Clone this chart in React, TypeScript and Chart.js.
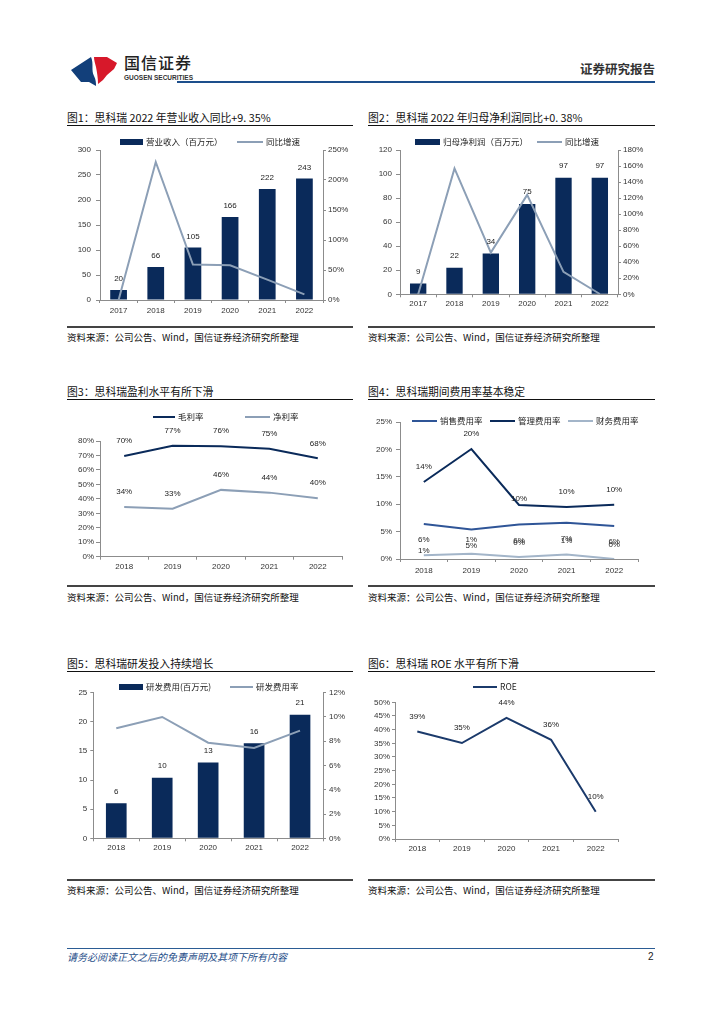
import React, { useEffect, useRef } from 'react';
import { Chart, registerables } from 'chart.js';

Chart.register(...registerables);

// ---------------- data ----------------
const years6 = ['2017', '2018', '2019', '2020', '2021', '2022'];
const years5 = ['2018', '2019', '2020', '2021', '2022'];

const revenue = [20, 66, 105, 166, 222, 243];
const revenueGrowth = [0, 230, 59, 58, 34, 9.35];
const netProfit = [9, 22, 34, 75, 97, 97];
const netProfitGrowth = [0, 157, 52, 124, 28, 0.38];
const grossMargin = [69.6, 76.7, 76.4, 74.7, 68.0];
const netMargin = [34.3, 33.2, 46.2, 44.3, 40.4];
const sellingRate = [6.4, 5.4, 6.3, 6.6, 6.0];
const adminRate = [14.05, 20.07, 9.85, 9.5, 9.9];
const financeRate = [0.67, 0.97, 0.36, 0.8, 0.0];
const rdExpense = [6.0, 10.4, 13.0, 16.3, 21.2];
const rdRate = [9.07, 10.0, 7.88, 7.44, 8.87];
const roe = [39.3, 35.1, 44.3, 36.3, 10.0];

// axis ranges [min, max, step]
const ax1L = [0, 300, 50];
const ax1R = [0, 250, 50];
const ax2L = [0, 120, 20];
const ax2R = [0, 180, 20];
const ax3 = [0, 80, 10];
const ax4 = [0, 25, 5];
const ax5L = [0, 25, 5];
const ax5R = [0, 12, 2];
const ax6 = [0, 50, 5];

// ---------------- styles ----------------
const NUM_FONT = '"Liberation Sans", Arial, sans-serif';
const CJK = '"Noto Sans CJK SC", "Noto Sans", sans-serif';
const AXIS = '#8c8c8c';
const NAVY = '#0a2a5a';
const GREY = '#8c9fb6';
const MID = '#2f5597';
const LIGHT = '#a3b5c9';
const TICK_COLOR = '#333';

type Box = { left: number; top: number; width: number; height: number };

function yAxis(o: { pos: 'left' | 'right'; r: number[]; width: number; tick: number; pad: number; pct?: boolean }) {
  return {
    position: o.pos,
    min: o.r[0],
    max: o.r[1],
    afterFit: (s: any) => {
      s.width = o.width;
    },
    ticks: {
      stepSize: o.r[2],
      font: { family: NUM_FONT, size: 8 },
      color: TICK_COLOR,
      padding: o.pad,
      callback: (v: any) => (o.pct ? v + '%' : String(v)),
    },
    grid: { drawOnChartArea: false, tickLength: o.tick, color: AXIS },
    border: { color: AXIS },
  };
}

function xAxis(height: number, tick: number, pad: number) {
  return {
    offset: true,
    afterFit: (s: any) => {
      s.height = height;
    },
    ticks: { font: { family: NUM_FONT, size: 8 }, color: TICK_COLOR, padding: pad, maxRotation: 0, autoSkip: false },
    grid: { offset: true, drawOnChartArea: false, tickLength: tick, color: AXIS },
    border: { color: AXIS },
  };
}

function legendPlugin(box: Box, pageY: number, items: { x: number; w: number }[]) {
  return {
    id: 'pageLegend',
    afterDraw(chart: any) {
      const ctx = chart.ctx;
      ctx.save();
      ctx.font = `8.5px ${CJK}`;
      ctx.textBaseline = 'middle';
      ctx.textAlign = 'left';
      const y = pageY - box.top;
      items.forEach((it, i) => {
        const ds = chart.data.datasets[i];
        const x = it.x - box.left;
        if (ds.type === 'bar') {
          ctx.fillStyle = ds.backgroundColor;
          ctx.fillRect(x, y - 3, it.w, 6);
        } else {
          ctx.strokeStyle = ds.borderColor;
          ctx.lineWidth = ds.borderWidth;
          ctx.beginPath();
          ctx.moveTo(x, y);
          ctx.lineTo(x + it.w, y);
          ctx.stroke();
        }
        ctx.fillStyle = '#222';
        ctx.fillText(ds.label, x + it.w + 3, y);
      });
      ctx.restore();
    },
  };
}

type LabelSpec = { ds: number; dy: number; pct?: boolean; dyAt?: Record<number, number> };

function valueLabelPlugin(specs: LabelSpec[]) {
  return {
    id: 'valueLabels',
    afterDraw(chart: any) {
      const ctx = chart.ctx;
      ctx.save();
      ctx.font = `8px ${NUM_FONT}`;
      ctx.fillStyle = '#222';
      ctx.textAlign = 'center';
      ctx.textBaseline = 'middle';
      specs.forEach((sp) => {
        const meta = chart.getDatasetMeta(sp.ds);
        const data = chart.data.datasets[sp.ds].data;
        meta.data.forEach((el: any, i: number) => {
          const v = data[i];
          const dy = sp.dyAt && sp.dyAt[i] !== undefined ? sp.dyAt[i] : sp.dy;
          ctx.fillText(String(Math.round(v)) + (sp.pct ? '%' : ''), el.x, el.y + dy);
        });
      });
      ctx.restore();
    },
  };
}

function baseOptions(padding: any, scales: any) {
  return {
    responsive: false,
    animation: false,
    devicePixelRatio: 1,
    layout: { padding },
    plugins: { legend: { display: false }, tooltip: { enabled: false } },
    scales,
  };
}

function lineDs(label: string, data: number[], color: string, width: number, extra: any = {}) {
  return { type: 'line', label, data, borderColor: color, backgroundColor: color, borderWidth: width, pointRadius: 0, tension: 0, ...extra };
}

function barDs(label: string, data: number[], extra: any = {}) {
  return { type: 'bar', label, data, backgroundColor: NAVY, barPercentage: 0.45, categoryPercentage: 1, ...extra };
}

// ---------------- chart boxes ----------------
const B1: Box = { left: 62, top: 128, width: 296, height: 196 };
const B2: Box = { left: 362, top: 128, width: 296, height: 196 };
const B3: Box = { left: 62, top: 402, width: 296, height: 180 };
const B4: Box = { left: 362, top: 402, width: 296, height: 180 };
const B5: Box = { left: 62, top: 674, width: 296, height: 200 };
const B6: Box = { left: 362, top: 674, width: 296, height: 200 };

const build1 = () => ({
  type: 'bar',
  data: {
    labels: years6,
    datasets: [
      barDs('营业收入（百万元）', revenue, { yAxisID: 'y', order: 2 }),
      lineDs('同比增速', revenueGrowth, GREY, 2, { yAxisID: 'y1', order: 1 }),
    ],
  },
  options: baseOptions({ top: 22, left: 0, right: 0, bottom: 0 }, {
    x: xAxis(24, 3, 3),
    y: yAxis({ pos: 'left', r: ax1L, width: 38, tick: 4, pad: 5 }),
    y1: yAxis({ pos: 'right', r: ax1R, width: 35, tick: 3, pad: 2, pct: true }),
  }),
  plugins: [legendPlugin(B1, 142, [{ x: 120, w: 23 }, { x: 237, w: 26 }]), valueLabelPlugin([{ ds: 0, dy: -11 }])],
});

const build2 = () => ({
  type: 'bar',
  data: {
    labels: years6,
    datasets: [
      barDs('归母净利润（百万元）', netProfit, { yAxisID: 'y', order: 2 }),
      lineDs('同比增速', netProfitGrowth, GREY, 2, { yAxisID: 'y1', order: 1 }),
    ],
  },
  options: baseOptions({ top: 22, left: 0, right: 0, bottom: 0 }, {
    x: xAxis(29.7, 3, 2),
    y: yAxis({ pos: 'left', r: ax2L, width: 38, tick: 4, pad: 4 }),
    y1: yAxis({ pos: 'right', r: ax2R, width: 40, tick: 3, pad: 2, pct: true }),
  }),
  plugins: [legendPlugin(B2, 142, [{ x: 415, w: 25 }, { x: 537, w: 25 }]), valueLabelPlugin([{ ds: 0, dy: -12 }])],
});

const build3 = () => ({
  type: 'line',
  data: {
    labels: years5,
    datasets: [lineDs('毛利率', grossMargin, NAVY, 2), lineDs('净利率', netMargin, GREY, 2)],
  },
  options: baseOptions({ top: 39, left: 0, right: 16, bottom: 0 }, {
    x: xAxis(25.3, 3, 2),
    y: yAxis({ pos: 'left', r: ax3, width: 38, tick: 4, pad: 2, pct: true }),
  }),
  plugins: [
    legendPlugin(B3, 417, [{ x: 153, w: 22 }, { x: 245, w: 25 }]),
    valueLabelPlugin([{ ds: 0, dy: -15, pct: true }, { ds: 1, dy: -15, pct: true }]),
  ],
});

const build4 = () => ({
  type: 'line',
  data: {
    labels: years5,
    datasets: [
      lineDs('销售费用率', sellingRate, MID, 2),
      lineDs('管理费用率', adminRate, NAVY, 2),
      lineDs('财务费用率', financeRate, LIGHT, 2),
    ],
  },
  options: baseOptions({ top: 20, left: 0, right: 20, bottom: 0 }, {
    x: xAxis(23, 3, 4),
    y: yAxis({ pos: 'left', r: ax4, width: 38, tick: 4, pad: 4, pct: true }),
  }),
  plugins: [
    legendPlugin(B4, 421, [{ x: 412, w: 25 }, { x: 490, w: 25 }, { x: 568, w: 25 }]),
    valueLabelPlugin([
      { ds: 0, dy: 16, pct: true },
      { ds: 1, dy: -15, pct: true, dyAt: { 2: -6 } },
      { ds: 2, dy: -14, pct: true, dyAt: { 0: -5 } },
    ]),
  ],
});

const build5 = () => ({
  type: 'bar',
  data: {
    labels: years5,
    datasets: [
      barDs('研发费用(百万元)', rdExpense, { yAxisID: 'y', order: 2 }),
      lineDs('研发费用率', rdRate, GREY, 2, { yAxisID: 'y1', order: 1 }),
    ],
  },
  options: baseOptions({ top: 18.7, left: 0, right: 0, bottom: 0 }, {
    x: xAxis(35.7, 3, 2),
    y: yAxis({ pos: 'left', r: ax5L, width: 31.3, tick: 3, pad: 3 }),
    y1: yAxis({ pos: 'right', r: ax5R, width: 35, tick: 3, pad: 3, pct: true }),
  }),
  plugins: [legendPlugin(B5, 687, [{ x: 119, w: 24 }, { x: 230, w: 23 }]), valueLabelPlugin([{ ds: 0, dy: -12 }])],
});

const build6 = () => ({
  type: 'line',
  data: {
    labels: years5,
    datasets: [lineDs('ROE', roe, '#1b3a6b', 2)],
  },
  options: baseOptions({ top: 28.3, left: 0, right: 40, bottom: 0 }, {
    x: xAxis(35, 3, 2),
    y: yAxis({ pos: 'left', r: ax6, width: 33, tick: 3, pad: 2, pct: true }),
  }),
  plugins: [legendPlugin(B6, 687, [{ x: 473, w: 24 }]), valueLabelPlugin([{ ds: 0, dy: -15, pct: true }])],
});

// ---------------- components ----------------
function ChartCanvas({ box, build }: { box: Box; build: () => any }) {
  const ref = useRef<HTMLCanvasElement | null>(null);
  useEffect(() => {
    if (!ref.current) return;
    const chart = new Chart(ref.current, build());
    return () => chart.destroy();
  }, []);
  return (
    <canvas
      ref={ref}
      width={box.width}
      height={box.height}
      style={{ position: 'absolute', left: box.left, top: box.top, width: box.width, height: box.height }}
    />
  );
}

function Title({ x, y, w, text }: { x: number; y: number; w: number; text: string }) {
  return (
    <>
      <div
        style={{
          position: 'absolute',
          left: x,
          top: y - 8,
          height: 16,
          lineHeight: '16px',
          fontSize: 10.8,
          fontFamily: CJK,
          color: '#111',
          whiteSpace: 'nowrap',
        }}
      >
        {text}
      </div>
      <div style={{ position: 'absolute', left: x, top: y + 8, width: w, height: 1, background: '#111' }} />
    </>
  );
}

function Source({ x, lineY, y, w }: { x: number; lineY: number; y: number; w: number }) {
  return (
    <>
      <div style={{ position: 'absolute', left: x, top: lineY - 1, width: w, height: 2, background: '#444' }} />
      <div
        style={{
          position: 'absolute',
          left: x,
          top: y - 8,
          height: 16,
          lineHeight: '16px',
          fontSize: 9.5,
          fontFamily: CJK,
          color: '#111',
          whiteSpace: 'nowrap',
        }}
      >
        资料来源：公司公告、Wind，国信证券经济研究所整理
      </div>
    </>
  );
}

export default function App() {
  return (
    <div
      style={{
        position: 'absolute',
        left: 0,
        top: 0,
        width: 724,
        height: 1024,
        background: '#fff',
        overflow: 'hidden',
      }}
    >
      {/* header */}
      <svg style={{ position: 'absolute', left: 70, top: 55 }} width={50} height={32} viewBox="0 0 50 32">
        <path d="M1,15 L21,2 C24,9 21,15 24,21 C26,25 26,28 26,31 L19,27 L11,27 Z" fill="#123f7a" />
        <path d="M24,2 L37,2 L47,8 L44,14 L37,20 L33,25 L28,29 C28,23 27,17 26,12 C25,8 24,5 24,2 Z" fill="#d7182a" />
      </svg>
      <div
        style={{
          position: 'absolute',
          left: 124,
          top: 52,
          fontSize: 16,
          lineHeight: '20px',
          fontFamily: CJK,
          fontWeight: 500,
          color: '#222',
          letterSpacing: 1,
          whiteSpace: 'nowrap',
        }}
      >
        国信证券
      </div>
      <div
        style={{
          position: 'absolute',
          left: 124,
          top: 74,
          fontSize: 6.5,
          lineHeight: '8px',
          fontFamily: NUM_FONT,
          fontWeight: 700,
          color: '#333',
          whiteSpace: 'nowrap',
        }}
      >
        GUOSEN SECURITIES
      </div>
      <div
        style={{
          position: 'absolute',
          left: 580,
          top: 61,
          fontSize: 12.5,
          lineHeight: '16px',
          fontFamily: CJK,
          fontWeight: 700,
          color: '#333',
          whiteSpace: 'nowrap',
        }}
      >
        证券研究报告
      </div>
      <div style={{ position: 'absolute', left: 177, top: 81, width: 478, height: 2, background: '#1d4f8c' }} />

      {/* row 1 */}
      <Title x={67} y={117} w={286} text="图1：思科瑞 2022 年营业收入同比+9. 35%" />
      <Title x={368} y={117} w={287} text="图2：思科瑞 2022 年归母净利润同比+0. 38%" />
      <ChartCanvas box={B1} build={build1} />
      <ChartCanvas box={B2} build={build2} />
      <Source x={67} lineY={327} y={337} w={286} />
      <Source x={368} lineY={327} y={337} w={287} />

      {/* row 2 */}
      <Title x={67} y={391} w={286} text="图3：思科瑞盈利水平有所下滑" />
      <Title x={368} y={391} w={287} text="图4：思科瑞期间费用率基本稳定" />
      <ChartCanvas box={B3} build={build3} />
      <ChartCanvas box={B4} build={build4} />
      <Source x={67} lineY={586} y={597} w={286} />
      <Source x={368} lineY={586} y={597} w={287} />

      {/* row 3 */}
      <Title x={67} y={663} w={286} text="图5：思科瑞研发投入持续增长" />
      <Title x={368} y={663} w={287} text="图6：思科瑞 ROE 水平有所下滑" />
      <ChartCanvas box={B5} build={build5} />
      <ChartCanvas box={B6} build={build6} />
      <Source x={67} lineY={880} y={890} w={286} />
      <Source x={368} lineY={880} y={890} w={287} />

      {/* footer */}
      <div style={{ position: 'absolute', left: 67, top: 948, width: 588, height: 1, background: '#2b5c94' }} />
      <div
        style={{
          position: 'absolute',
          left: 67,
          top: 950,
          fontSize: 10,
          lineHeight: '14px',
          fontFamily: CJK,
          fontStyle: 'italic',
          color: '#1f4e89',
          whiteSpace: 'nowrap',
        }}
      >
        请务必阅读正文之后的免责声明及其项下所有内容
      </div>
      <div
        style={{
          position: 'absolute',
          left: 648,
          top: 950,
          fontSize: 10,
          lineHeight: '14px',
          fontFamily: NUM_FONT,
          color: '#222',
        }}
      >
        2
      </div>
    </div>
  );
}
